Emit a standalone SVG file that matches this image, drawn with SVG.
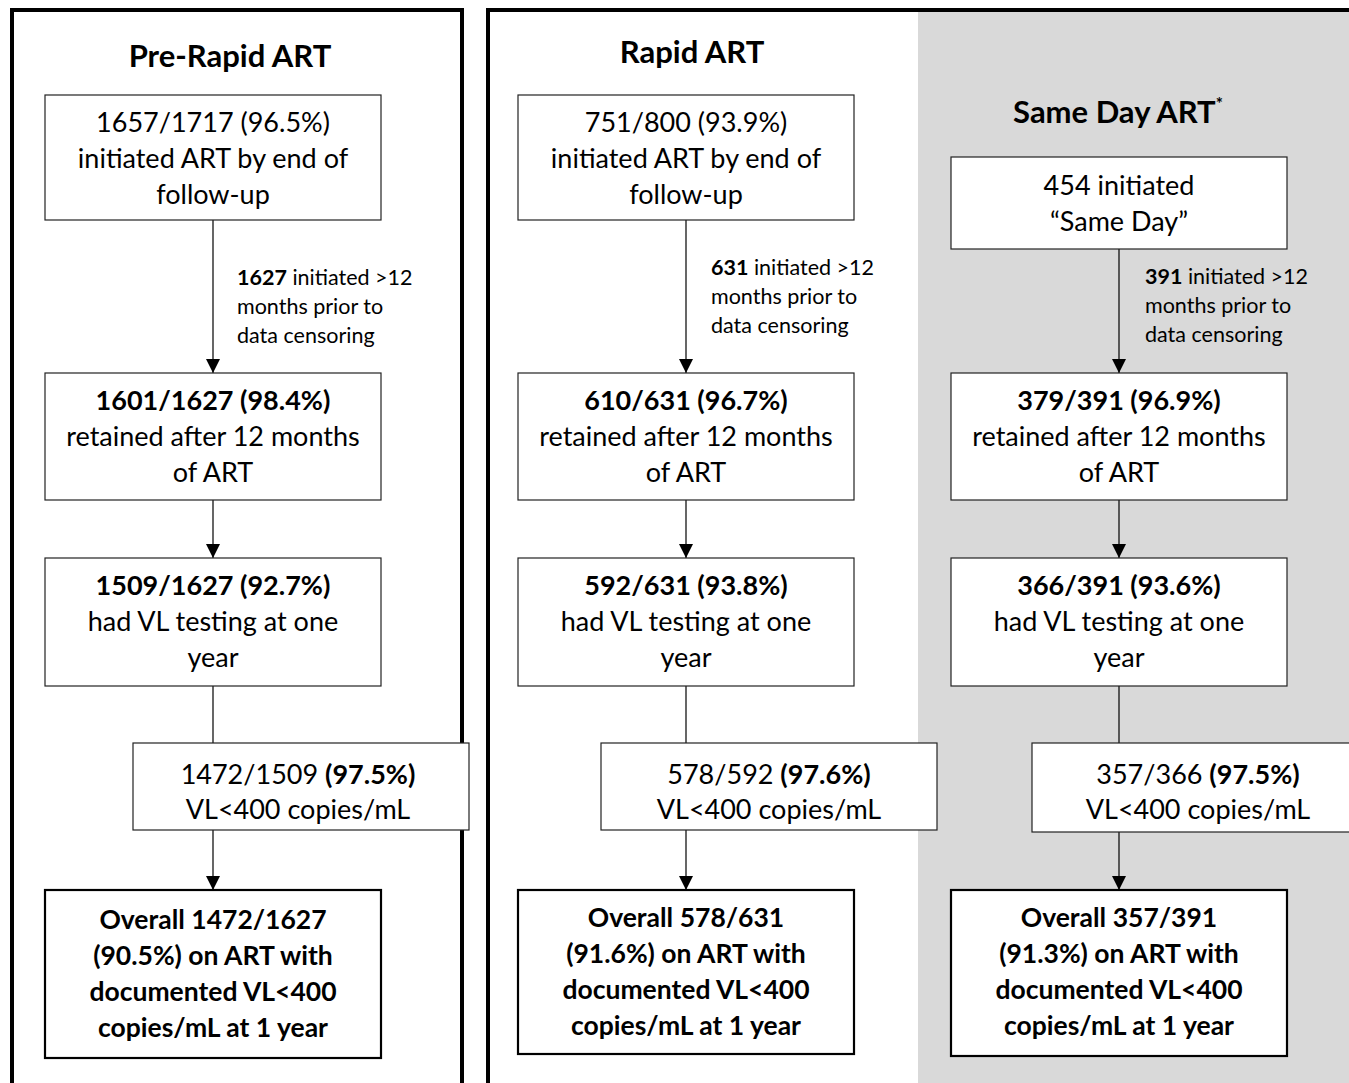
<svg xmlns="http://www.w3.org/2000/svg" width="1349" height="1083" viewBox="0 0 1349 1083">
<defs>
<marker id="ah" markerWidth="14" markerHeight="14" refX="14" refY="7" orient="auto" markerUnits="userSpaceOnUse">
<path d="M0,0 L14,7 L0,14 Z" fill="#000"/>
</marker>
<style>
text{font-family:Lato,"Open Sans","Liberation Sans",sans-serif;fill:#000;text-anchor:middle}
.t{font-size:27px}
.f{font-size:26.5px;font-weight:bold}
.l{font-size:21.5px;text-anchor:start}
.h{font-size:31px;font-weight:bold}
.b{font-weight:bold}
.box{fill:#fff;stroke:#222;stroke-width:1.2}
.fin{fill:#fff;stroke:#000;stroke-width:2.2}
.panel{fill:none;stroke:#000;stroke-width:4}
.c{stroke:#000;stroke-width:1.2;fill:none}
</style>
</defs>
<rect width="1349" height="1083" fill="#fff"/>
<rect x="918" y="12" width="431" height="1071" fill="#d9d9d9"/>
<path class="panel" d="M12,1083 V10 H462 V1083"/>
<path class="panel" d="M488,1083 V10 H1349"/>
<text class="h" x="230" y="67">Pre-Rapid ART</text>
<text class="h" x="692" y="63">Rapid ART</text>
<text class="h" x="1118" y="123">Same Day ART<tspan font-size="17" dy="-13">*</tspan></text>
<g id="connectors">
<line class="c" x1="213" y1="220" x2="213" y2="373" marker-end="url(#ah)"/>
<line class="c" x1="213" y1="500" x2="213" y2="558" marker-end="url(#ah)"/>
<line class="c" x1="213" y1="686" x2="213" y2="743"/>
<line class="c" x1="213" y1="830" x2="213" y2="890" marker-end="url(#ah)"/>
<line class="c" x1="686" y1="220" x2="686" y2="373" marker-end="url(#ah)"/>
<line class="c" x1="686" y1="500" x2="686" y2="558" marker-end="url(#ah)"/>
<line class="c" x1="686" y1="686" x2="686" y2="743"/>
<line class="c" x1="686" y1="830" x2="686" y2="890" marker-end="url(#ah)"/>
<line class="c" x1="1119" y1="249" x2="1119" y2="373" marker-end="url(#ah)"/>
<line class="c" x1="1119" y1="500" x2="1119" y2="558" marker-end="url(#ah)"/>
<line class="c" x1="1119" y1="686" x2="1119" y2="743"/>
<line class="c" x1="1119" y1="832" x2="1119" y2="890" marker-end="url(#ah)"/>
<text class="l" x="237" y="285"><tspan class="b">1627</tspan> initiated &gt;12</text>
<text class="l" x="237" y="314">months prior to</text>
<text class="l" x="237" y="343">data censoring</text>
<text class="l" x="711" y="275"><tspan class="b">631</tspan> initiated &gt;12</text>
<text class="l" x="711" y="304">months prior to</text>
<text class="l" x="711" y="333">data censoring</text>
<text class="l" x="1145" y="284"><tspan class="b">391</tspan> initiated &gt;12</text>
<text class="l" x="1145" y="313">months prior to</text>
<text class="l" x="1145" y="342">data censoring</text>
</g>
<g id="pre1"><rect class="box" x="45" y="95" width="336" height="125"/>
<text class="t" x="213" y="132">1657/1717 (96.5%)</text><text class="t" x="213" y="168">initiated ART by end of</text><text class="t" x="213" y="204">follow-up</text></g>
<g id="pre2"><rect class="box" x="45" y="373" width="336" height="127"/>
<text class="t b" x="213" y="410">1601/1627 (98.4%)</text><text class="t" x="213" y="446">retained after 12 months</text><text class="t" x="213" y="482">of ART</text></g>
<g id="pre3"><rect class="box" x="45" y="558" width="336" height="128"/>
<text class="t b" x="213" y="595">1509/1627 (92.7%)</text><text class="t" x="213" y="631">had VL testing at one</text><text class="t" x="213" y="667">year</text></g>
<g id="pre4"><rect class="box" x="133" y="743" width="336" height="87"/>
<text class="t" x="298" y="784">1472/1509 <tspan class="b">(97.5%)</tspan></text><text class="t" x="298" y="819">VL&lt;400 copies/mL</text></g>
<g id="pre5"><rect class="fin" x="45" y="890" width="336" height="168"/>
<text class="f" x="213" y="929">Overall 1472/1627</text><text class="f" x="213" y="965">(90.5%) on ART with</text><text class="f" x="213" y="1001">documented VL&lt;400</text><text class="f" x="213" y="1037">copies/mL at 1 year</text></g>
<g id="rap1"><rect class="box" x="518" y="95" width="336" height="125"/>
<text class="t" x="686" y="132">751/800 (93.9%)</text><text class="t" x="686" y="168">initiated ART by end of</text><text class="t" x="686" y="204">follow-up</text></g>
<g id="rap2"><rect class="box" x="518" y="373" width="336" height="127"/>
<text class="t b" x="686" y="410">610/631 (96.7%)</text><text class="t" x="686" y="446">retained after 12 months</text><text class="t" x="686" y="482">of ART</text></g>
<g id="rap3"><rect class="box" x="518" y="558" width="336" height="128"/>
<text class="t b" x="686" y="595">592/631 (93.8%)</text><text class="t" x="686" y="631">had VL testing at one</text><text class="t" x="686" y="667">year</text></g>
<g id="rap4"><rect class="box" x="601" y="743" width="336" height="87"/>
<text class="t" x="769" y="784">578/592 <tspan class="b">(97.6%)</tspan></text><text class="t" x="769" y="819">VL&lt;400 copies/mL</text></g>
<g id="rap5"><rect class="fin" x="518" y="890" width="336" height="164"/>
<text class="f" x="686" y="927">Overall 578/631</text><text class="f" x="686" y="963">(91.6%) on ART with</text><text class="f" x="686" y="999">documented VL&lt;400</text><text class="f" x="686" y="1035">copies/mL at 1 year</text></g>
<g id="sd1"><rect class="box" x="951" y="157" width="336" height="92"/>
<text class="t" x="1119" y="195">454 initiated</text><text class="t" x="1119" y="231">“Same Day”</text></g>
<g id="sd2"><rect class="box" x="951" y="373" width="336" height="127"/>
<text class="t b" x="1119" y="410">379/391 (96.9%)</text><text class="t" x="1119" y="446">retained after 12 months</text><text class="t" x="1119" y="482">of ART</text></g>
<g id="sd3"><rect class="box" x="951" y="558" width="336" height="128"/>
<text class="t b" x="1119" y="595">366/391 (93.6%)</text><text class="t" x="1119" y="631">had VL testing at one</text><text class="t" x="1119" y="667">year</text></g>
<g id="sd4"><rect class="box" x="1032" y="743" width="330" height="89"/>
<text class="t" x="1198" y="784">357/366 <tspan class="b">(97.5%)</tspan></text><text class="t" x="1198" y="819">VL&lt;400 copies/mL</text></g>
<g id="sd5"><rect class="fin" x="951" y="890" width="336" height="166"/>
<text class="f" x="1119" y="927">Overall 357/391</text><text class="f" x="1119" y="963">(91.3%) on ART with</text><text class="f" x="1119" y="999">documented VL&lt;400</text><text class="f" x="1119" y="1035">copies/mL at 1 year</text></g>
</svg>
